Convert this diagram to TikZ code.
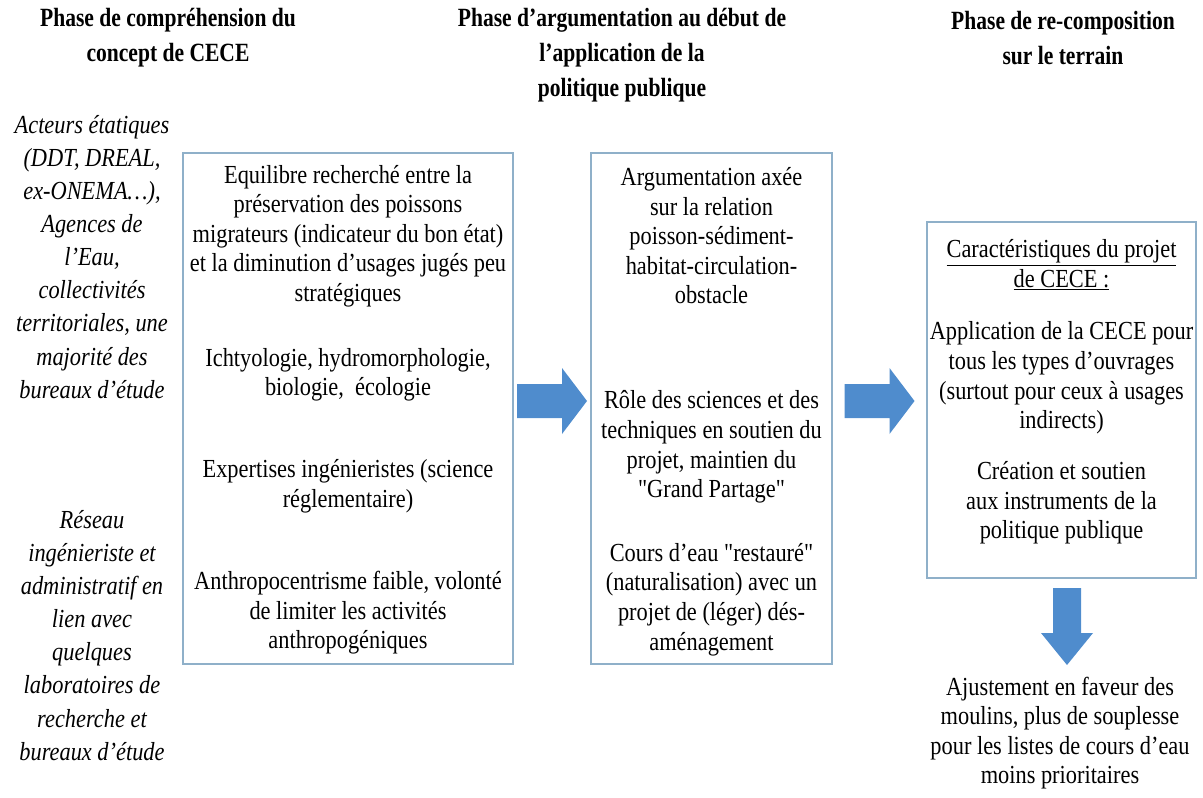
\documentclass[tikz,border=0pt]{standalone}
\usepackage{fontspec}
\setmainfont{Liberation Serif}[FakeStretch=0.86, Ligatures=TeXOff]
\newfontfamily\headfont{Liberation Serif}[FakeStretch=0.82, Ligatures=TeXOff]
\usepackage{tikz}
\usetikzlibrary{calc, fit, positioning}

\definecolor{framebl}{RGB}{143,176,201}
\definecolor{arrowbl}{RGB}{79,140,205}

\begin{document}
\begin{tikzpicture}[x=0.025cm, y=-0.025cm]

    % Styles
    \tikzset{
        headtext/.style={align=center, inner sep=0pt, font=\headfont\bfseries\fontsize{18.7pt}{24.9pt}\selectfont},
        bodytext/.style={align=center, inner sep=0pt, font=\fontsize{18.5pt}{21pt}\selectfont},
        actortext/.style={align=center, inner sep=0pt, font=\itshape\fontsize{18.5pt}{23.5pt}\selectfont},
        panel/.style={rectangle, draw=framebl, line width=0.8pt, inner sep=0pt},
        blockarrow/.style={fill=arrowbl, draw=none}
    }

    \useasboundingbox (0,0) rectangle (1203,797);

    % Phase titles
    \node[headtext] (h1) at (168,38) {Phase de compréhension du\\concept de CECE};
    \node[headtext] (h2) at (622,55) {Phase d’argumentation au début de\\l’application de la\\politique publique};
    \node[headtext] (h3) at (1063,38) {Phase de re-composition\\sur le terrain};

    % Actors (left column)
    \node[actortext] (act) at (92,257) {Acteurs étatiques\\(DDT, DREAL,\\ex-ONEMA…),\\Agences de\\l’Eau,\\collectivités\\territoriales, une\\majorité des\\bureaux d’étude};
    \node[actortext] (res) at (92,635.5) {Réseau\\ingénieriste et\\administratif en\\lien avec\\quelques\\laboratoires de\\recherche et\\bureaux d’étude};

    % Panels
    \node[panel, fit={(183,153) (513,664)}] (b1) {};
    \node[panel, fit={(591,153) (832,664)}] (b2) {};
    \node[panel, fit={(927,222) (1196,578)}] (b3) {};

    % Phase 1
    \node[bodytext] (p11) at (348,236) {Equilibre recherché entre la\\préservation des poissons\\migrateurs (indicateur du bon état)\\et la diminution d’usages jugés peu\\stratégiques};
    \node[bodytext] (p12) at (348,375) {Ichtyologie, hydromorphologie,\\biologie,~ écologie};
    \node[bodytext] (p13) at (348,486.5) {Expertises ingénieristes (science\\réglementaire)};
    \node[bodytext] (p14) at (348,613) {Anthropocentrisme faible, volonté\\de limiter les activités\\anthropogéniques};

    % Phase 2
    \node[bodytext] (p21) at (711.5,236) {Argumentation axée\\sur la relation\\poisson-sédiment-\\habitat-circulation-\\obstacle};
    \node[bodytext] (p22) at (711.5,447) {Rôle des sciences et des\\techniques en soutien du\\projet, maintien du\\"Grand Partage"};
    \node[bodytext] (p23) at (711.5,599.5) {Cours d’eau "restauré"\\(naturalisation) avec un\\projet de (léger) dés-\\aménagement};

    % Phase 3
    \node[bodytext] (p31) at (1061.5,265) {\underline{Caractéristiques du projet}\\\underline{de CECE :}};
    \node[bodytext] (p32) at (1061.5,378) {Application de la CECE pour\\tous les types d’ouvrages\\(surtout pour ceux à usages\\indirects)};
    \node[bodytext] (p33) at (1061.5,503) {Création et soutien\\aux instruments de la\\politique publique};
    \node[bodytext] (out) at (1060,733) {Ajustement en faveur des\\moulins, plus de souplesse\\pour les listes de cours d’eau\\moins prioritaires};

    % Block arrows
    \coordinate (m1) at ($(b1.east)!0.5!(b2.west)$);
    \coordinate (m2) at ($(b2.east)!0.5!(b3.west)$);
    \coordinate (m3) at (1067,626.5);
    \foreach \m in {m1,m2} {
        \fill[blockarrow] ($(\m |- 0,401)+(-35,-17)$) -- ++(45,0) -- ++(0,-16) -- ++(25,33) -- ++(-25,33) -- ++(0,-16) -- ++(-45,0) -- cycle;
    }
    \fill[blockarrow] ($(m3)+(-14,-38.5)$) -- ++(28,0) -- ++(0,45) -- ++(12,0) -- ++(-26,32) -- ++(-26,-32) -- ++(12,0) -- cycle;

\end{tikzpicture}
\end{document}
